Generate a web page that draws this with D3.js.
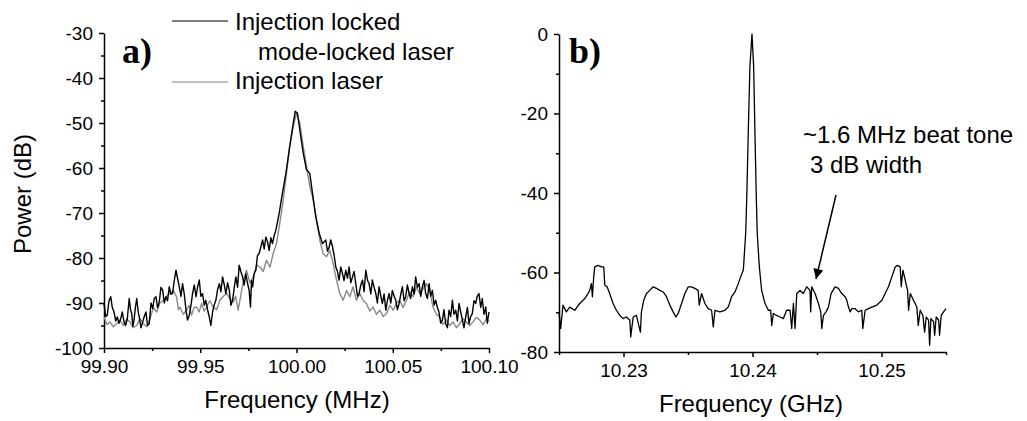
<!DOCTYPE html>
<html>
<head>
<meta charset="utf-8">
<script src="https://cdn.jsdelivr.net/npm/d3@7"></script>
<style>
  body { margin: 0; background: #fff; }
  svg text { font-family: "Liberation Sans", Arial, sans-serif; fill: #000; }
  .axis path, .axis line { stroke: #000; stroke-width: 1.5; }
  .axis text { font-size: 19px; }
  .label { font-size: 24px; }
  .panel { font-family: "Liberation Serif", "Times New Roman", serif !important; font-weight: bold; font-size: 36px; }
</style>
</head>
<body>
<div class="canvas"></div>
<script>
// panel a) - injection locked mode-locked laser (black)
const aFreqLocked = [
  99.9000, 99.9009, 99.9017, 99.9026, 99.9035, 99.9043, 99.9052, 99.9061, 99.9069, 99.9078,
  99.9087, 99.9095, 99.9104, 99.9112, 99.9121, 99.9131, 99.9138, 99.9144, 99.9150, 99.9156,
  99.9163, 99.9170, 99.9177, 99.9183, 99.9192, 99.9201, 99.9209, 99.9218, 99.9226, 99.9235,
  99.9244, 99.9253, 99.9261, 99.9270, 99.9278, 99.9287, 99.9296, 99.9305, 99.9313, 99.9322,
  99.9330, 99.9339, 99.9347, 99.9356, 99.9365, 99.9374, 99.9382, 99.9391, 99.9400, 99.9408,
  99.9417, 99.9426, 99.9434, 99.9443, 99.9452, 99.9460, 99.9469, 99.9478, 99.9486, 99.9495,
  99.9503, 99.9512, 99.9521, 99.9529, 99.9538, 99.9547, 99.9555, 99.9564, 99.9572, 99.9581,
  99.9590, 99.9599, 99.9607, 99.9616, 99.9625, 99.9633, 99.9642, 99.9651, 99.9659, 99.9668,
  99.9677, 99.9685, 99.9694, 99.9702, 99.9711, 99.9720, 99.9728, 99.9737, 99.9745, 99.9754,
  99.9761, 99.9766, 99.9772, 99.9780, 99.9789, 99.9797, 99.9806, 99.9815, 99.9824, 99.9832,
  99.9841, 99.9850, 99.9858, 99.9867, 99.9875, 99.9884, 99.9893, 99.9910, 99.9927, 99.9945,
  99.9962, 99.9979, 99.9993, 100.0005, 100.0017, 100.0035, 100.0052, 100.0069, 100.0083, 100.0100,
  100.0118, 100.0135, 100.0152, 100.0161, 100.0170, 100.0178, 100.0187, 100.0196, 100.0204, 100.0213,
  100.0221, 100.0230, 100.0239, 100.0247, 100.0256, 100.0265, 100.0273, 100.0282, 100.0291, 100.0299,
  100.0308, 100.0317, 100.0325, 100.0334, 100.0343, 100.0351, 100.0360, 100.0369, 100.0377, 100.0386,
  100.0394, 100.0403, 100.0412, 100.0420, 100.0429, 100.0438, 100.0446, 100.0455, 100.0464, 100.0472,
  100.0481, 100.0490, 100.0498, 100.0507, 100.0516, 100.0524, 100.0533, 100.0542, 100.0550, 100.0559,
  100.0567, 100.0576, 100.0585, 100.0593, 100.0602, 100.0611, 100.0619, 100.0628, 100.0637, 100.0645,
  100.0654, 100.0663, 100.0671, 100.0680, 100.0689, 100.0697, 100.0706, 100.0715, 100.0723, 100.0732,
  100.0740, 100.0749, 100.0758, 100.0766, 100.0775, 100.0784, 100.0792, 100.0801, 100.0810, 100.0818,
  100.0827, 100.0836, 100.0844, 100.0853, 100.0862, 100.0870, 100.0879, 100.0888, 100.0896, 100.0905,
  100.0913, 100.0922, 100.0931, 100.0939, 100.0948, 100.0957, 100.0965, 100.0974, 100.0983, 100.0991,
  100.1000];
const aPowerLocked = [
  -90.1, -93.0, -92.7, -89.5, -88.6, -91.0, -92.0, -94.0, -93.1, -94.5,
  -93.5, -92.0, -94.2, -95.0, -93.5, -89.0, -91.5, -92.4, -95.2, -93.8,
  -91.0, -89.0, -91.8, -93.1, -95.5, -94.2, -93.0, -92.0, -95.0, -94.6,
  -90.0, -91.2, -89.0, -88.6, -91.0, -89.8, -86.5, -87.2, -90.0, -88.6,
  -89.5, -86.4, -88.0, -87.9, -85.0, -82.7, -84.5, -86.4, -88.5, -85.7,
  -88.0, -91.6, -93.8, -92.7, -90.5, -87.9, -86.0, -88.6, -86.5, -84.9,
  -88.5, -87.9, -90.5, -89.4, -91.5, -93.1, -95.0, -92.0, -90.5, -89.4,
  -87.0, -85.7, -87.5, -84.2, -86.0, -87.9, -85.5, -87.2, -90.5, -89.4,
  -86.5, -84.2, -86.5, -81.6, -83.0, -84.2, -86.0, -83.5, -85.5, -87.2,
  -90.9, -85.0, -86.4, -83.5, -82.7, -79.5, -79.0, -77.5, -76.0, -78.0,
  -75.3, -76.5, -78.3, -75.5, -76.8, -75.0, -73.8, -70.1, -65.6, -61.2,
  -56.0, -51.2, -47.4, -47.8, -51.5, -56.7, -60.4, -61.2, -65.6, -70.8,
  -74.5, -76.8, -76.0, -78.5, -77.5, -76.0, -77.5, -79.5, -82.0, -83.0,
  -84.9, -82.0, -83.5, -85.0, -82.7, -84.5, -82.0, -85.5, -84.2, -83.0,
  -85.7, -88.5, -87.9, -86.0, -84.9, -87.5, -82.7, -85.0, -85.7, -88.0,
  -84.9, -86.5, -87.9, -90.0, -86.4, -88.5, -90.1, -88.0, -91.6, -89.5,
  -87.9, -90.0, -87.2, -88.5, -89.4, -91.5, -90.1, -88.0, -86.4, -89.5,
  -88.6, -86.0, -87.9, -89.0, -86.4, -88.0, -84.2, -86.5, -85.7, -88.5,
  -86.4, -85.0, -87.9, -89.0, -85.7, -88.5, -87.2, -90.5, -89.4, -91.0,
  -92.0, -94.5, -93.8, -91.5, -94.6, -95.5, -91.6, -93.0, -89.4, -92.5,
  -91.6, -94.0, -90.1, -92.0, -93.8, -95.5, -93.1, -91.0, -94.6, -93.0,
  -92.4, -89.5, -90.1, -88.5, -87.9, -91.0, -89.0, -92.5, -90.9, -94.5,
  -92.0];

// panel a) - injection laser (grey)
const aFreqInj = [
  99.9000, 99.9015, 99.9031, 99.9048, 99.9066, 99.9083, 99.9100, 99.9118, 99.9135, 99.9152,
  99.9170, 99.9187, 99.9204, 99.9222, 99.9239, 99.9256, 99.9273, 99.9291, 99.9308, 99.9325,
  99.9343, 99.9360, 99.9377, 99.9386, 99.9394, 99.9412, 99.9429, 99.9442, 99.9455, 99.9468,
  99.9481, 99.9494, 99.9507, 99.9520, 99.9533, 99.9550, 99.9567, 99.9585, 99.9602, 99.9620,
  99.9637, 99.9654, 99.9671, 99.9684, 99.9697, 99.9715, 99.9728, 99.9740, 99.9758, 99.9775,
  99.9793, 99.9810, 99.9827, 99.9844, 99.9862, 99.9879, 99.9896, 99.9913, 99.9931, 99.9948,
  99.9965, 99.9983, 100.0000, 100.0017, 100.0035, 100.0052, 100.0069, 100.0087, 100.0104, 100.0121,
  100.0138, 100.0156, 100.0173, 100.0190, 100.0208, 100.0225, 100.0242, 100.0260, 100.0277, 100.0294,
  100.0311, 100.0329, 100.0346, 100.0363, 100.0381, 100.0398, 100.0415, 100.0433, 100.0450, 100.0467,
  100.0485, 100.0502, 100.0519, 100.0536, 100.0554, 100.0571, 100.0588, 100.0606, 100.0623, 100.0640,
  100.0658, 100.0675, 100.0692, 100.0709, 100.0727, 100.0744, 100.0761, 100.0779, 100.0796, 100.0813,
  100.0831, 100.0848, 100.0865, 100.0882, 100.0900, 100.0917, 100.0934, 100.0952, 100.0969, 100.0986,
  100.1000];
const aPowerInj = [
  -93.1, -94.8, -94.2, -95.3, -94.6, -93.8, -95.0, -93.6, -94.2, -95.5,
  -95.0, -93.5, -94.6, -95.3, -93.5, -91.0, -92.0, -90.0, -89.4, -88.5,
  -87.9, -87.2, -88.6, -91.5, -90.9, -92.5, -91.6, -90.5, -92.7, -91.0,
  -90.9, -92.0, -90.1, -91.8, -90.9, -89.5, -90.9, -91.5, -89.4, -88.5,
  -87.9, -89.0, -89.8, -88.5, -91.6, -87.2, -84.5, -82.7, -85.5, -84.2,
  -81.5, -82.0, -83.0, -80.5, -82.0, -79.0, -76.8, -72.3, -67.1, -61.2,
  -55.2, -50.8, -47.8, -50.0, -55.2, -59.7, -64.1, -67.1, -71.6, -76.0,
  -79.0, -79.7, -78.3, -81.2, -84.9, -87.9, -89.4, -87.2, -88.6, -86.4,
  -89.4, -87.9, -89.4, -90.1, -91.8, -90.9, -92.5, -91.6, -93.0, -92.4,
  -90.5, -91.6, -90.0, -89.4, -91.0, -89.4, -87.5, -88.6, -86.5, -87.9,
  -86.8, -85.7, -87.2, -90.9, -92.5, -93.1, -94.8, -93.8, -95.0, -94.2,
  -95.5, -94.6, -93.5, -94.2, -95.0, -94.2, -93.2, -93.8, -94.8, -93.5,
  -94.2];

// panel b) - beat tone spectrum
const bFreq = [10.22500, 10.22513, 10.22531, 10.22557, 10.22583, 10.22622, 10.22660, 10.22699, 10.22725, 10.22738,
  10.22751, 10.22759, 10.22769, 10.22777, 10.22803, 10.22829, 10.22847, 10.22855, 10.22873, 10.22893,
  10.22919, 10.22945, 10.22971, 10.22997, 10.23023, 10.23049, 10.23056, 10.23075, 10.23100, 10.23131,
  10.23139, 10.23157, 10.23178, 10.23204, 10.23230, 10.23256, 10.23282, 10.23307, 10.23333, 10.23359,
  10.23385, 10.23406, 10.23424, 10.23450, 10.23476, 10.23502, 10.23527, 10.23553, 10.23579, 10.23587,
  10.23605, 10.23631, 10.23657, 10.23683, 10.23696, 10.23709, 10.23747, 10.23786, 10.23812, 10.23838,
  10.23864, 10.23890, 10.23908, 10.23929, 10.23947, 10.23955, 10.23967, 10.23980, 10.23996, 10.24009,
  10.24019, 10.24030, 10.24037, 10.24053, 10.24071, 10.24097, 10.24123, 10.24141, 10.24149, 10.24162,
  10.24187, 10.24213, 10.24239, 10.24265, 10.24291, 10.24304, 10.24317, 10.24330, 10.24343, 10.24369,
  10.24394, 10.24420, 10.24446, 10.24451, 10.24459, 10.24485, 10.24511, 10.24529, 10.24537, 10.24550,
  10.24570, 10.24589, 10.24609, 10.24640, 10.24666, 10.24692, 10.24718, 10.24731, 10.24744, 10.24757,
  10.24770, 10.24796, 10.24821, 10.24847, 10.24855, 10.24873, 10.24899, 10.24925, 10.24964, 10.25003,
  10.25028, 10.25054, 10.25080, 10.25106, 10.25124, 10.25145, 10.25153, 10.25166, 10.25184, 10.25202,
  10.25210, 10.25223, 10.25248, 10.25274, 10.25285, 10.25300, 10.25321, 10.25334, 10.25347, 10.25365,
  10.25373, 10.25383, 10.25404, 10.25412, 10.25424, 10.25443, 10.25450, 10.25463, 10.25481, 10.25500];
const bPower = [-69.9, -74.1, -68.2, -69.9, -68.7, -69.5, -67.8, -66.6, -65.3, -64.5,
  -62.8, -66.1, -61.1, -58.6, -58.2, -58.6, -58.6, -63.2, -63.6, -65.3,
  -67.8, -69.5, -70.8, -71.6, -71.2, -72.0, -76.2, -71.2, -70.8, -75.0,
  -69.9, -67.0, -65.3, -64.5, -63.6, -64.0, -64.5, -64.9, -66.1, -68.2,
  -69.9, -71.2, -70.3, -67.8, -65.3, -63.6, -63.6, -64.0, -64.5, -68.2,
  -65.3, -67.8, -69.1, -69.5, -73.7, -69.5, -69.9, -69.5, -68.7, -66.1,
  -64.9, -62.8, -61.1, -59.4, -50.2, -41.8, -25.0, -8.2, 0.0, -8.2,
  -25.0, -41.8, -50.2, -58.6, -64.5, -67.8, -69.5, -69.5, -73.3, -70.3,
  -70.8, -71.2, -71.6, -69.5, -69.5, -74.1, -67.8, -74.1, -65.3, -64.5,
  -65.3, -63.6, -64.5, -69.9, -63.6, -65.3, -67.8, -69.9, -74.1, -70.8,
  -69.9, -68.7, -65.3, -63.6, -64.0, -65.3, -66.1, -67.0, -68.7, -69.9,
  -69.1, -69.1, -69.9, -69.5, -74.1, -69.5, -69.1, -68.7, -68.2, -67.0,
  -65.3, -63.6, -61.1, -58.6, -58.2, -58.6, -63.6, -59.4, -61.9, -64.5,
  -69.5, -65.3, -67.0, -68.7, -73.3, -69.5, -70.8, -75.0, -71.2, -72.0,
  -78.3, -71.6, -72.4, -75.8, -71.2, -72.0, -75.8, -70.8, -69.9, -69.1];

// ticks
const aXMajor = [99.90, 99.95, 100.00, 100.05, 100.10];
const aXMinor = [99.925, 99.975, 100.025, 100.075];
const aYMajor = [-100, -90, -80, -70, -60, -50, -40, -30];
const aYMinor = [-95, -85, -75, -65, -55, -45, -35];
const bXMajor = [10.23, 10.24, 10.25];
const bXMinor = [10.225, 10.235, 10.245, 10.255];
const bYMajor = [-80, -60, -40, -20, 0];
const bYMinor = [-70, -50, -30, -10];

const svg = d3.select(".canvas")
    .append("svg")
    .attr("width", 1027)
    .attr("height", 421);

// plain hyphen for negatives, like the original plot
const fmtInt = d => String(d);

// draws one pair of axes with major + minor ticks
const drawAxes = (x, y, xMaj, xMin, yMaj, yMin, fmtX, fmtY) => {
    const y0 = y.range()[0];
    const x0 = x.range()[0];
    svg.append("g").attr("class", "axis")
        .attr("transform", `translate(0, ${y0})`)
        .call(d3.axisBottom(x).tickValues(xMin).tickSize(3).tickFormat(""))
        .call(g => g.select(".domain").remove());
    svg.append("g").attr("class", "axis")
        .attr("transform", `translate(${x0}, 0)`)
        .call(d3.axisLeft(y).tickValues(yMin).tickSize(3).tickFormat(""))
        .call(g => g.select(".domain").remove());
    svg.append("g").attr("class", "axis")
        .attr("transform", `translate(0, ${y0})`)
        .call(d3.axisBottom(x).tickValues(xMaj).tickSize(5).tickSizeOuter(0).tickPadding(7).tickFormat(fmtX));
    svg.append("g").attr("class", "axis")
        .attr("transform", `translate(${x0}, 0)`)
        .call(d3.axisLeft(y).tickValues(yMaj).tickSize(5).tickSizeOuter(0).tickPadding(6).tickFormat(fmtY));
};

// ---- panel a ----
const xA = d3.scaleLinear().domain([99.90, 100.10]).range([104, 489]);
const yA = d3.scaleLinear().domain([-100, -30]).range([348, 33]);
drawAxes(xA, yA, aXMajor, aXMinor, aYMajor, aYMinor, d3.format(".2f"), fmtInt);

const lineA = d3.line().x(d => xA(d[0])).y(d => yA(d[1]));
svg.append("path")
    .attr("d", lineA(d3.zip(aFreqInj, aPowerInj)))
    .attr("fill", "none").attr("stroke", "#888").attr("stroke-width", 1.4)
    .attr("stroke-linejoin", "round");
svg.append("path")
    .attr("d", lineA(d3.zip(aFreqLocked, aPowerLocked)))
    .attr("fill", "none").attr("stroke", "#000").attr("stroke-width", 1.4)
    .attr("stroke-linejoin", "round");

svg.append("text").attr("class", "panel").attr("x", 122).attr("y", 63).text("a)");

// legend
svg.append("line").attr("x1", 172).attr("x2", 228).attr("y1", 21).attr("y2", 21)
    .attr("stroke", "#000").attr("stroke-width", 1.2);
svg.append("line").attr("x1", 172).attr("x2", 228).attr("y1", 82).attr("y2", 82)
    .attr("stroke", "#aaa").attr("stroke-width", 1.5);
svg.append("text").attr("class", "label").attr("x", 235).attr("y", 30).text("Injection locked");
svg.append("text").attr("class", "label").attr("x", 258).attr("y", 60).text("mode-locked laser");
svg.append("text").attr("class", "label").attr("x", 235).attr("y", 89).text("Injection laser");

svg.append("text").attr("class", "label").attr("text-anchor", "middle")
    .attr("x", 297).attr("y", 408).text("Frequency (MHz)");
svg.append("text").attr("class", "label").attr("text-anchor", "middle")
    .attr("transform", "translate(31, 194) rotate(-90)").text("Power (dB)");

// ---- panel b ----
const xB = d3.scaleLinear().domain([10.225, 10.255]).range([559, 946]);
const yB = d3.scaleLinear().domain([-80, 0]).range([352, 34]);
drawAxes(xB, yB, bXMajor, bXMinor, bYMajor, bYMinor, d3.format(".2f"), fmtInt);

const lineB = d3.line().x(d => xB(d[0])).y(d => yB(d[1]));
svg.append("path")
    .attr("d", lineB(d3.zip(bFreq, bPower)))
    .attr("fill", "none").attr("stroke", "#000").attr("stroke-width", 1.3)
    .attr("stroke-linejoin", "round");

svg.append("text").attr("class", "panel").attr("x", 569).attr("y", 63).text("b)");

svg.append("text").attr("class", "label").attr("x", 803).attr("y", 143).text("~1.6 MHz beat tone");
svg.append("text").attr("class", "label").attr("x", 810).attr("y", 173).text("3 dB width");

// arrow pointing at the side band
svg.append("defs").append("marker")
    .attr("id", "arrow")
    .attr("viewBox", "0 0 10 10")
    .attr("refX", 10).attr("refY", 5)
    .attr("markerWidth", 14).attr("markerHeight", 10)
    .attr("markerUnits", "userSpaceOnUse")
    .attr("orient", "auto")
    .append("path").attr("d", "M0,0 L10,5 L0,10 Z").attr("fill", "#000");
svg.append("line")
    .attr("x1", 836).attr("y1", 195).attr("x2", 816).attr("y2", 279)
    .attr("stroke", "#000").attr("stroke-width", 1.5)
    .attr("marker-end", "url(#arrow)");

svg.append("text").attr("class", "label").attr("text-anchor", "middle")
    .attr("x", 751).attr("y", 412).text("Frequency (GHz)");
</script>
</body>
</html>
